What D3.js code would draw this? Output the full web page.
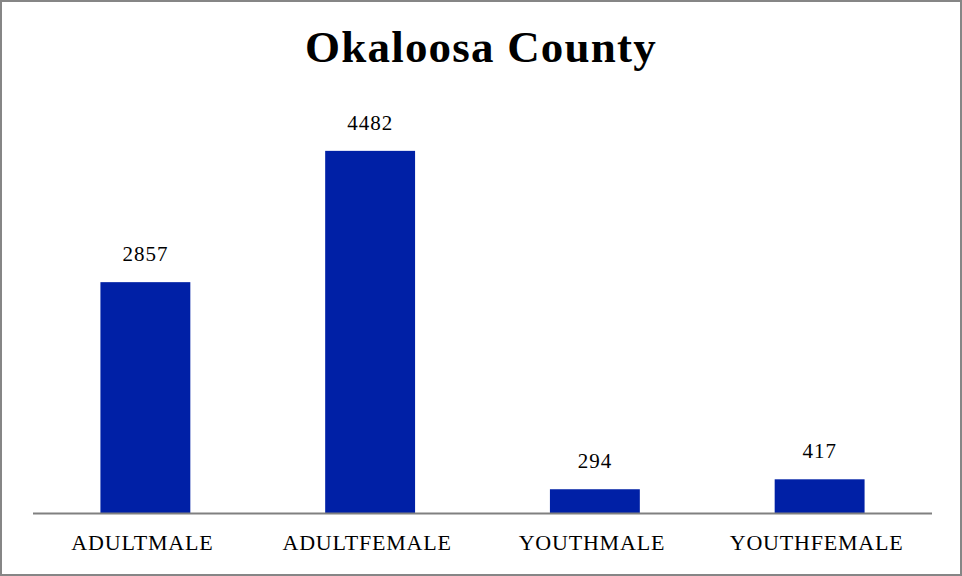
<!DOCTYPE html>
<html><head><meta charset="utf-8">
<script src="https://cdn.jsdelivr.net/npm/d3@7"></script>
<style>html,body{margin:0;padding:0;background:#fff;}</style>
</head><body>
<svg id="chart" width="962" height="576"></svg>
<script>
const categories = ["ADULTMALE", "ADULTFEMALE", "YOUTHMALE", "YOUTHFEMALE"];
const values = [2857, 4482, 294, 417];
const title = "Okaloosa County";

const svg = d3.select("#chart");
const W = 962, H = 576;
const font = "'Liberation Serif', 'DejaVu Serif', serif";

svg.append("rect").attr("x", 1).attr("y", 1).attr("width", W - 2).attr("height", H - 2)
  .attr("fill", "#fff").attr("stroke", "#868686").attr("stroke-width", 2);

const x = d3.scaleBand().domain(categories).range([33, 932]).paddingInner(0.6).paddingOuter(0.3);
const y = d3.scaleLinear().domain([0, 5000]).range([513, 109]);

svg.append("text").attr("x", W / 2).attr("y", 62).attr("text-anchor", "middle")
  .attr("font-family", font).attr("font-weight", "bold").attr("font-size", 45)
  .attr("letter-spacing", 1.2).attr("fill", "#000").text(title);

svg.selectAll("rect.bar").data(values).enter().append("rect").attr("class", "bar")
  .attr("x", (d, i) => x(categories[i])).attr("width", x.bandwidth())
  .attr("y", d => y(d)).attr("height", d => y(0) - y(d)).attr("fill", "#0020A6");

svg.selectAll("text.val").data(values).enter().append("text").attr("class", "val")
  .attr("x", (d, i) => x(categories[i]) + x.bandwidth() / 2).attr("y", d => y(d) - 21)
  .attr("text-anchor", "middle").attr("font-family", font).attr("font-size", 21)
  .attr("letter-spacing", 1).attr("fill", "#000").text(d => d);

const axis = d3.axisBottom(x).tickSize(0).tickPadding(0);
const g = svg.append("g").attr("transform", `translate(0,${y(0)})`).call(axis);
g.select(".domain").attr("stroke", "#808080").attr("stroke-width", 2).attr("d", "M33,0.5H932");
g.selectAll(".tick text").attr("font-family", font).attr("font-size", 22).attr("fill", "#000")
  .attr("letter-spacing", 0.8).attr("dx", -3).attr("dy", 0).attr("y", 37);
</script>
</body></html>
